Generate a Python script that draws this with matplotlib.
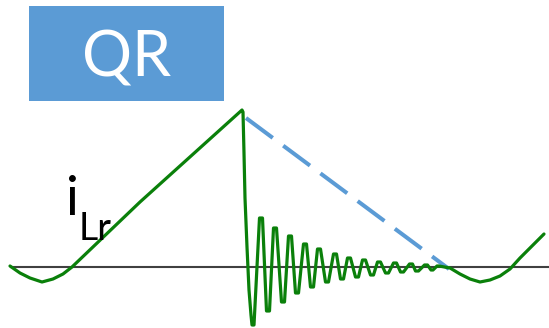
import matplotlib
matplotlib.use("Agg")
import matplotlib.pyplot as plt
from matplotlib.patches import Rectangle

# Waveform of resonant current i_Lr (time in arbitrary units, current relative to zero line)
t_vals = [10, 20, 30, 42, 53, 63, 72, 140, 242, 243, 244, 245, 247, 249, 251, 252, 254,
          259.5, 262.5, 266.5, 269.5, 273.5, 276.5, 281.5, 284.5, 288.5, 291.5,
          295.5, 298.5, 303.5, 306.5, 310.5, 313.5, 317.5, 320.5, 325.5, 328.5,
          333.5, 336.5, 340.5, 343.5, 347.5, 350.5, 355.5, 358.5, 362.5, 365.5,
          370.5, 373.5, 377.5, 380.5, 385.5, 388.5, 393.5, 396.5, 400.5, 403.5,
          409.5, 412.5, 415.5, 418.5, 424.5, 427.5, 431, 433, 437, 439,
          450, 460, 470, 480, 490, 500, 510, 520, 530, 544]
y_pix = [266, 273, 278, 282, 279, 274, 267, 202, 110, 112, 153, 198, 247, 290, 315, 325, 325,
         218, 218, 311, 311, 228, 228, 302, 302, 236, 236,
         293, 293, 244, 244, 287, 287, 249, 249, 282, 282,
         254, 254, 279, 279, 258, 258, 277, 277, 260, 260,
         275, 275, 262, 262, 273, 273, 263, 263, 272, 272,
         264, 264, 271, 271, 265, 265, 270, 270, 266, 266,
         268, 274, 279, 282, 280, 276, 269, 258, 248, 234]
i_vals = [267 - y for y in y_pix]

# Dashed envelope line
env_t = [246, 449]
env_i = [267 - 118, 267 - 269]

title_text = "QR"
label_main = "i"
label_sub = "Lr"

fig = plt.figure(figsize=(5.49, 3.28), dpi=100)
ax = fig.add_axes([0, 0, 1, 1])
ax.set_xlim(0, 549)
ax.set_ylim(267 - 328, 267)
ax.axis("off")

# zero line
ax.plot([10, 549], [0, 0], color="#404040", lw=1.5, solid_capstyle="butt", zorder=1)

# waveform
ax.plot(t_vals, i_vals, color="#0a800a", lw=2.3, solid_joinstyle="round",
        solid_capstyle="round", zorder=3)

# dashed line
lw_d = 2.9
ax.plot(env_t, env_i, color="#5B9BD5", lw=lw_d, linestyle=(0, (24 / lw_d, 9.4 / lw_d)),
        dash_capstyle="butt", zorder=2)

# Box with title
ax.add_patch(Rectangle((29, 267 - 101), 195, 95, facecolor="#5B9BD5", edgecolor="none", zorder=4))
ax.text(126.5, 267 - 77, title_text, color="white", fontsize=45, family="Lato",
        ha="center", va="baseline", zorder=5)

# label
ax.text(66, 267 - 215, label_main, color="black", fontsize=39, family="Lato",
        ha="left", va="baseline")
ax.text(79, 267 - 240, label_sub, color="black", fontsize=27, family="Lato",
        ha="left", va="baseline")

fig.savefig("out.png", dpi=100)
